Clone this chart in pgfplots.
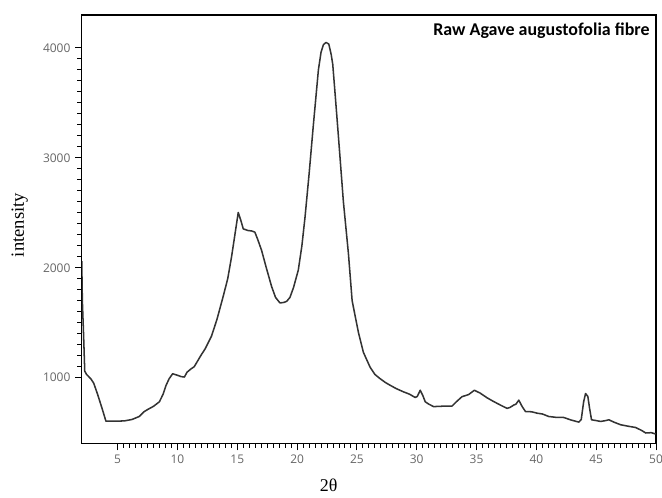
\documentclass[border=0pt]{standalone}
\usepackage{fontspec}
\setmainfont{Liberation Serif}
\newfontfamily\titlefont{Carlito}
\newfontfamily\tickfont{Open Sans}
\usepackage{pgfplots}
\pgfplotsset{compat=1.18}
\definecolor{curve}{HTML}{333333}
\definecolor{ticktext}{HTML}{666666}

\pgfplotstableread{
x y
2.0 2060
2.05 1700
2.15 1400
2.25 1060
2.4 1030
2.76 990
3.0 950
3.32 850
3.7 720
4.02 605
4.5 605
5.0 605
5.56 607
6.2 620
6.8 647
7.2 690
7.5 710
8.0 740
8.49 781
8.8 850
9.05 931
9.3 990
9.6 1036
10.03 1021
10.3 1010
10.58 1006
10.8 1050
11.14 1081
11.4 1100
11.7 1155
12.0 1210
12.3 1260
12.85 1380
13.3 1530
13.82 1739
14.2 1900
14.52 2099
14.8 2300
15.08 2503
15.3 2430
15.5 2354
15.9 2339
16.2 2335
16.47 2324
16.7 2260
17.03 2159
17.4 2010
17.87 1829
18.2 1730
18.57 1680
18.9 1685
19.13 1695
19.4 1730
19.7 1820
20.1 1979
20.4 2200
20.66 2458
21.0 2850
21.36 3300
21.78 3800
22.0 3960
22.2 4030
22.42 4050
22.65 4035
22.85 3940
22.98 3850
23.2 3550
23.45 3200
23.87 2600
24.29 2129
24.6 1700
25.13 1410
25.54 1231
26.1 1096
26.5 1030
26.94 991
27.4 955
27.78 931
28.3 900
28.9 871
29.4 850
29.87 820
30.05 830
30.29 886
30.5 840
30.71 781
31.0 760
31.41 737
32.0 740
32.5 742
32.95 742
33.3 780
33.78 827
34.34 847
34.82 886
35.3 860
35.88 817
36.4 785
36.99 751
37.55 721
37.8 730
38.11 751
38.3 760
38.53 796
38.8 740
39.09 692
39.6 690
40.07 677
40.5 670
41.04 647
41.6 640
42.29 638
42.9 615
43.55 596
43.75 620
43.95 780
44.11 856
44.3 830
44.45 720
44.61 617
45.0 610
45.37 602
45.8 610
46.06 617
46.5 595
47.04 572
47.6 560
48.3 547
48.8 520
49.14 497
49.6 500
49.97 488
}\xrd

\begin{document}
\begin{tikzpicture}[x=0.75pt,y=0.75pt]
\begin{axis}[
  scale only axis,
  width=432pt, height=322.5pt,
  xmin=2, xmax=50, ymin=400, ymax=4300,
  xtick={5,10,...,50}, ytick={1000,2000,3000,4000},
  minor x tick num=9, minor y tick num=9,
  tick align=outside,
  xtick pos=bottom, ytick pos=left,
  major tick length=5pt, minor tick length=3.2pt,
  every tick/.style={black, line width=0.7pt},
  axis line style={line width=1.1pt, black},
  tick label style={font=\tickfont\fontsize{9}{10}\selectfont, color=ticktext},
  /pgf/number format/assume math mode=true,
  /pgf/number format/1000 sep={},
  ylabel={\fontsize{14}{15}\selectfont intensity},
  ylabel style={at={(rel axis cs:0,0.51)}, anchor=south, yshift=37pt},
  xlabel={\fontsize{13.5}{15}\selectfont 2θ},
  xlabel style={at={(rel axis cs:0.43,0)}, anchor=north, yshift=-23pt},
  clip=true,
]
\addplot[color=curve, line width=1.15pt, no marks, line join=round] table[x=x, y=y] {\xrd};
\node[anchor=east, font=\titlefont\bfseries\fontsize{13.5}{15}\selectfont]
  at (rel axis cs:0.997,0.963) {Raw Agave augustofolia fibre};
\coordinate (bl) at (rel axis cs:0,0);
\coordinate (tr) at (rel axis cs:1,1);
\end{axis}
\pgfresetboundingbox
\path ([shift={(-61.5pt,-40.5pt)}]bl) rectangle ([shift={(4.5pt,11.25pt)}]tr);
\end{tikzpicture}
\end{document}
